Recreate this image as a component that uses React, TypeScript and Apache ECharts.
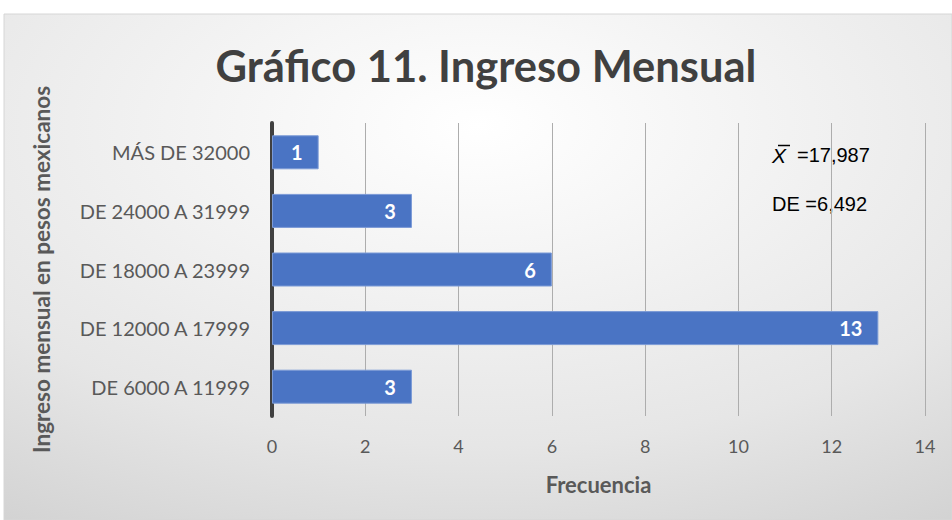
import React, { useEffect, useRef } from "react";
import * as echarts from "echarts";

const categories = [
  "DE 6000 A 11999",
  "DE 12000 A 17999",
  "DE 18000 A 23999",
  "DE 24000 A 31999",
  "MÁS DE 32000",
];
const frequencies = [3, 13, 6, 3, 1];
const xTicks = { min: 0, max: 14, interval: 2 };
const titleText = "Gráfico 11. Ingreso Mensual";
const yName = "Ingreso mensual en pesos mexicanos";
const xName = "Frecuencia";
const meanText = "=17,987";
const sdText = "DE =6,492";

export default function App() {
  const ref = useRef<HTMLDivElement>(null);
  useEffect(() => {
    if (!ref.current) return;
    const chart = echarts.init(ref.current, null, { renderer: "svg" });
    const font = "Lato, 'Noto Sans', sans-serif";
    chart.setOption({
      animation: false,
      backgroundColor: "#ffffff",
      graphic: [
        {
          type: "rect",
          z: -10,
          silent: true,
          shape: { x: 4, y: 14, width: 948, height: 506 },
          style: {
            fill: new echarts.graphic.RadialGradient(0.5, 0.22, 1.15, [
              { offset: 0, color: "#ffffff" },
              { offset: 0.55, color: "#e6e6e6" },
              { offset: 1, color: "#c4c4c4" },
            ]),
            stroke: "#d6d6d6",
            lineWidth: 1,
          },
        },
        {
          type: "text",
          x: 486,
          y: 65,
          style: {
            text: titleText,
            fill: "#404040",
            font: `bold 43.5px ${font}`,
            textAlign: "center",
            textVerticalAlign: "middle",
          },
        },
        {
          type: "text",
          x: 772,
          y: 155,
          style: {
            text: "X",
            fill: "#000000",
            font: "italic 21px 'Liberation Sans', Arial, sans-serif",
            textAlign: "left",
            textVerticalAlign: "middle",
          },
        },
        {
          type: "line",
          shape: { x1: 778, y1: 145.5, x2: 790, y2: 145.5 },
          style: { stroke: "#000000", lineWidth: 1.5 },
        },
        {
          type: "text",
          x: 797,
          y: 155,
          style: {
            text: meanText,
            fill: "#000000",
            font: "20px 'Liberation Sans', Arial, sans-serif",
            textAlign: "left",
            textVerticalAlign: "middle",
          },
        },
        {
          type: "text",
          x: 772,
          y: 204,
          style: {
            text: sdText,
            fill: "#000000",
            font: "20px 'Liberation Sans', Arial, sans-serif",
            textAlign: "left",
            textVerticalAlign: "middle",
          },
        },
      ],
      grid: { left: 272, right: 27, top: 123, bottom: 104, containLabel: false },
      xAxis: {
        type: "value",
        min: xTicks.min,
        max: xTicks.max,
        interval: xTicks.interval,
        axisLine: { show: false },
        axisTick: { show: false },
        splitLine: { show: true, lineStyle: { color: "#adadad", width: 1 } },
        axisLabel: {
          color: "#595959",
          fontSize: 18,
          fontFamily: font,
          margin: 21,
        },
        name: xName,
        nameLocation: "middle",
        nameGap: 57,
        nameTextStyle: {
          color: "#595959",
          fontSize: 22,
          fontWeight: "bold",
          fontFamily: font,
        },
      },
      yAxis: {
        type: "category",
        data: categories,
        axisLine: { show: true, lineStyle: { color: "#404040", width: 4 } },
        axisTick: { show: false },
        axisLabel: {
          color: "#595959",
          fontSize: 20,
          fontFamily: font,
          margin: 22,
        },
        name: yName,
        nameLocation: "middle",
        nameRotate: 90,
        nameGap: 219,
        nameTextStyle: {
          color: "#595959",
          fontSize: 22.5,
          fontWeight: "bold",
          fontFamily: font,
        },
      },
      series: [
        {
          type: "bar",
          data: frequencies,
          barWidth: 34,
          itemStyle: { color: "#4a74c4", borderColor: "#7b9ad6", borderWidth: 1 },
          label: {
            show: true,
            position: "insideRight",
            distance: 16,
            color: "#ffffff",
            fontSize: 20,
            fontWeight: "bold",
            fontFamily: font,
          },
        },
      ],
    });
    return () => chart.dispose();
  }, []);
  return (
    <div
      ref={ref}
      style={{ position: "fixed", left: 0, top: 0, width: 952, height: 520 }}
    />
  );
}
